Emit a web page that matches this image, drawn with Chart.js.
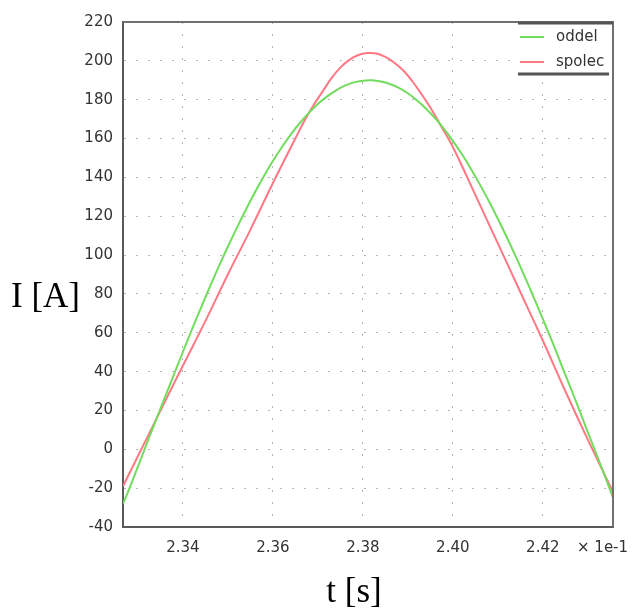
<!DOCTYPE html>
<html>
<head>
<meta charset="utf-8">
<script src="https://cdn.jsdelivr.net/npm/chart.js@4.4.1/dist/chart.umd.min.js"></script>
<style>
  html, body { margin: 0; padding: 0; background: #fff; }
</style>
</head>
<body>
<canvas id="currentChart" width="638" height="611"></canvas>
<script>
// time axis is in units of 1e-1 s
const xTicks = [2.34, 2.36, 2.38, 2.40, 2.42];
const yTicks = [-40, -20, 0, 20, 40, 60, 80, 100, 120, 140, 160, 180, 200, 220];
const xMin = 2.3267;
const xMax = 2.4356;

const seriesNames = ["oddel", "spolec"];

// "oddel" (green)
const greenT = [2.3267, 2.328, 2.330, 2.332, 2.334, 2.336, 2.338, 2.340, 2.342, 2.344,
  2.346, 2.348, 2.350, 2.352, 2.354, 2.356, 2.358, 2.360, 2.362, 2.364, 2.366, 2.368,
  2.370, 2.372, 2.374, 2.376, 2.378, 2.380, 2.382, 2.384, 2.386, 2.388, 2.390, 2.392,
  2.394, 2.396, 2.398, 2.400, 2.402, 2.404, 2.406, 2.408, 2.410, 2.412, 2.414, 2.416,
  2.418, 2.420, 2.422, 2.424, 2.426, 2.428, 2.430, 2.432, 2.434, 2.4356];
const greenI = [-28, -20.9, -9.0, 3.0, 14.9, 26.7, 38.4, 50.1, 61.6, 72.7,
  83.6, 94.2, 104.3, 114.0, 123.3, 132.2, 140.6, 148.4, 155.5, 162.1, 168.0, 173.2,
  177.8, 181.6, 184.7, 187.2, 188.9, 189.8, 190.0, 189.4, 188.1, 186.1, 183.3, 179.7,
  175.5, 170.6, 165.1, 158.8, 152.0, 144.5, 136.4, 127.8, 118.7, 109.2, 99.2, 88.8,
  78.1, 67.2, 55.9, 44.3, 32.7, 20.9, 8.9, -3.0, -15.0, -25];

// "spolec" (red)
const redT = [2.3267, 2.330, 2.335, 2.340, 2.345, 2.350, 2.355, 2.360, 2.365, 2.367,
  2.369, 2.371, 2.373, 2.375, 2.377, 2.379, 2.381, 2.383, 2.385, 2.387, 2.389, 2.391,
  2.393, 2.395, 2.397, 2.399, 2.401, 2.403, 2.405, 2.410, 2.415, 2.420, 2.425, 2.430, 2.4356];
const redI = [-19, -3.6, 19.8, 43, 66, 90, 113, 137, 160, 169,
  177, 184, 191, 196.5, 200.5, 203, 204, 203.8, 202, 199, 195, 189.5,
  183, 176, 168, 160, 151, 141, 131, 106, 81, 56, 30, 5, -22];

const toPoints = (ts, vs) => ts.map((t, i) => ({ x: t, y: vs[i] }));

const lineColors = ["#72dc5e", "#ff7884"];

// frame, legend, axis titles and the exponent note
const decorations = {
  id: "decorations",
  afterDraw(chart) {
    const { ctx, chartArea: a } = chart;
    ctx.save();

    // top and right edges of the frame
    ctx.strokeStyle = "#707070";
    ctx.lineWidth = 2;
    ctx.beginPath();
    ctx.moveTo(a.left, a.top);
    ctx.lineTo(a.right, a.top);
    ctx.lineTo(a.right, a.bottom);
    ctx.stroke();

    // legend box
    const lx = a.right - 95;
    ctx.fillStyle = "#fff";
    ctx.fillRect(lx, a.top + 2, 93, 50);
    ctx.strokeStyle = "#555";
    ctx.lineWidth = 3;
    ctx.beginPath();
    ctx.moveTo(lx, a.top + 1);
    ctx.lineTo(a.right, a.top + 1);
    ctx.moveTo(lx, a.top + 52);
    ctx.lineTo(a.right - 4, a.top + 52);
    ctx.stroke();

    ctx.font = "15px 'DejaVu Sans'";
    ctx.textBaseline = "middle";
    ctx.textAlign = "left";
    seriesNames.forEach((name, i) => {
      const y = a.top + 15 + i * 25;
      ctx.strokeStyle = lineColors[i];
      ctx.lineWidth = 2;
      ctx.beginPath();
      ctx.moveTo(lx + 2, y);
      ctx.lineTo(lx + 26, y);
      ctx.stroke();
      ctx.fillStyle = "#333";
      ctx.fillText(name, lx + 38, y);
    });

    // exponent note on the time axis
    ctx.fillStyle = "#333";
    ctx.fillText("\u00d7 1e-1", a.right - 36, a.bottom + 21);

    // axis titles
    ctx.fillStyle = "#000";
    ctx.font = "35px 'Liberation Serif'";
    ctx.fillText("I [A]", 11, 298);
    ctx.textAlign = "center";
    ctx.fillText("t [s]", 354, 593);

    ctx.restore();
  },
};

new Chart(document.getElementById("currentChart"), {
  type: "line",
  data: {
    datasets: [
      {
        label: seriesNames[0],
        data: toPoints(greenT, greenI),
        borderColor: lineColors[0],
        borderWidth: 2,
        pointRadius: 0,
        tension: 0.4,
      },
      {
        label: seriesNames[1],
        data: toPoints(redT, redI),
        borderColor: lineColors[1],
        borderWidth: 2,
        pointRadius: 0,
        tension: 0.4,
      },
    ],
  },
  options: {
    responsive: false,
    animation: false,
    layout: { padding: { top: 22, right: 25, left: 0, bottom: 0 } },
    plugins: {
      legend: { display: false },
      tooltip: { enabled: false },
    },
    scales: {
      x: {
        type: "linear",
        min: xMin,
        max: xMax,
        afterBuildTicks: (s) => { s.ticks = xTicks.map((v) => ({ value: v })); },
        afterFit: (s) => { s.height = 84; },
        ticks: {
          color: "#333",
          font: { family: "DejaVu Sans", size: 15 },
          padding: 12,
          maxRotation: 0,
          callback: (v) => Number(v).toFixed(2),
        },
        grid: { color: "#b4b4b4", lineWidth: 1, drawTicks: false },
        border: { color: "#5a5a5a", width: 2, dash: [2, 10] },
      },
      y: {
        min: -40,
        max: 220,
        afterBuildTicks: (s) => { s.ticks = yTicks.map((v) => ({ value: v })); },
        afterFit: (s) => { s.width = 123; },
        ticks: {
          color: "#333",
          font: { family: "DejaVu Sans", size: 15 },
          padding: 10,
        },
        grid: { color: "#b4b4b4", lineWidth: 1, drawTicks: false },
        border: { color: "#5a5a5a", width: 2, dash: [2, 10] },
      },
    },
  },
  plugins: [decorations],
});
</script>
</body>
</html>
